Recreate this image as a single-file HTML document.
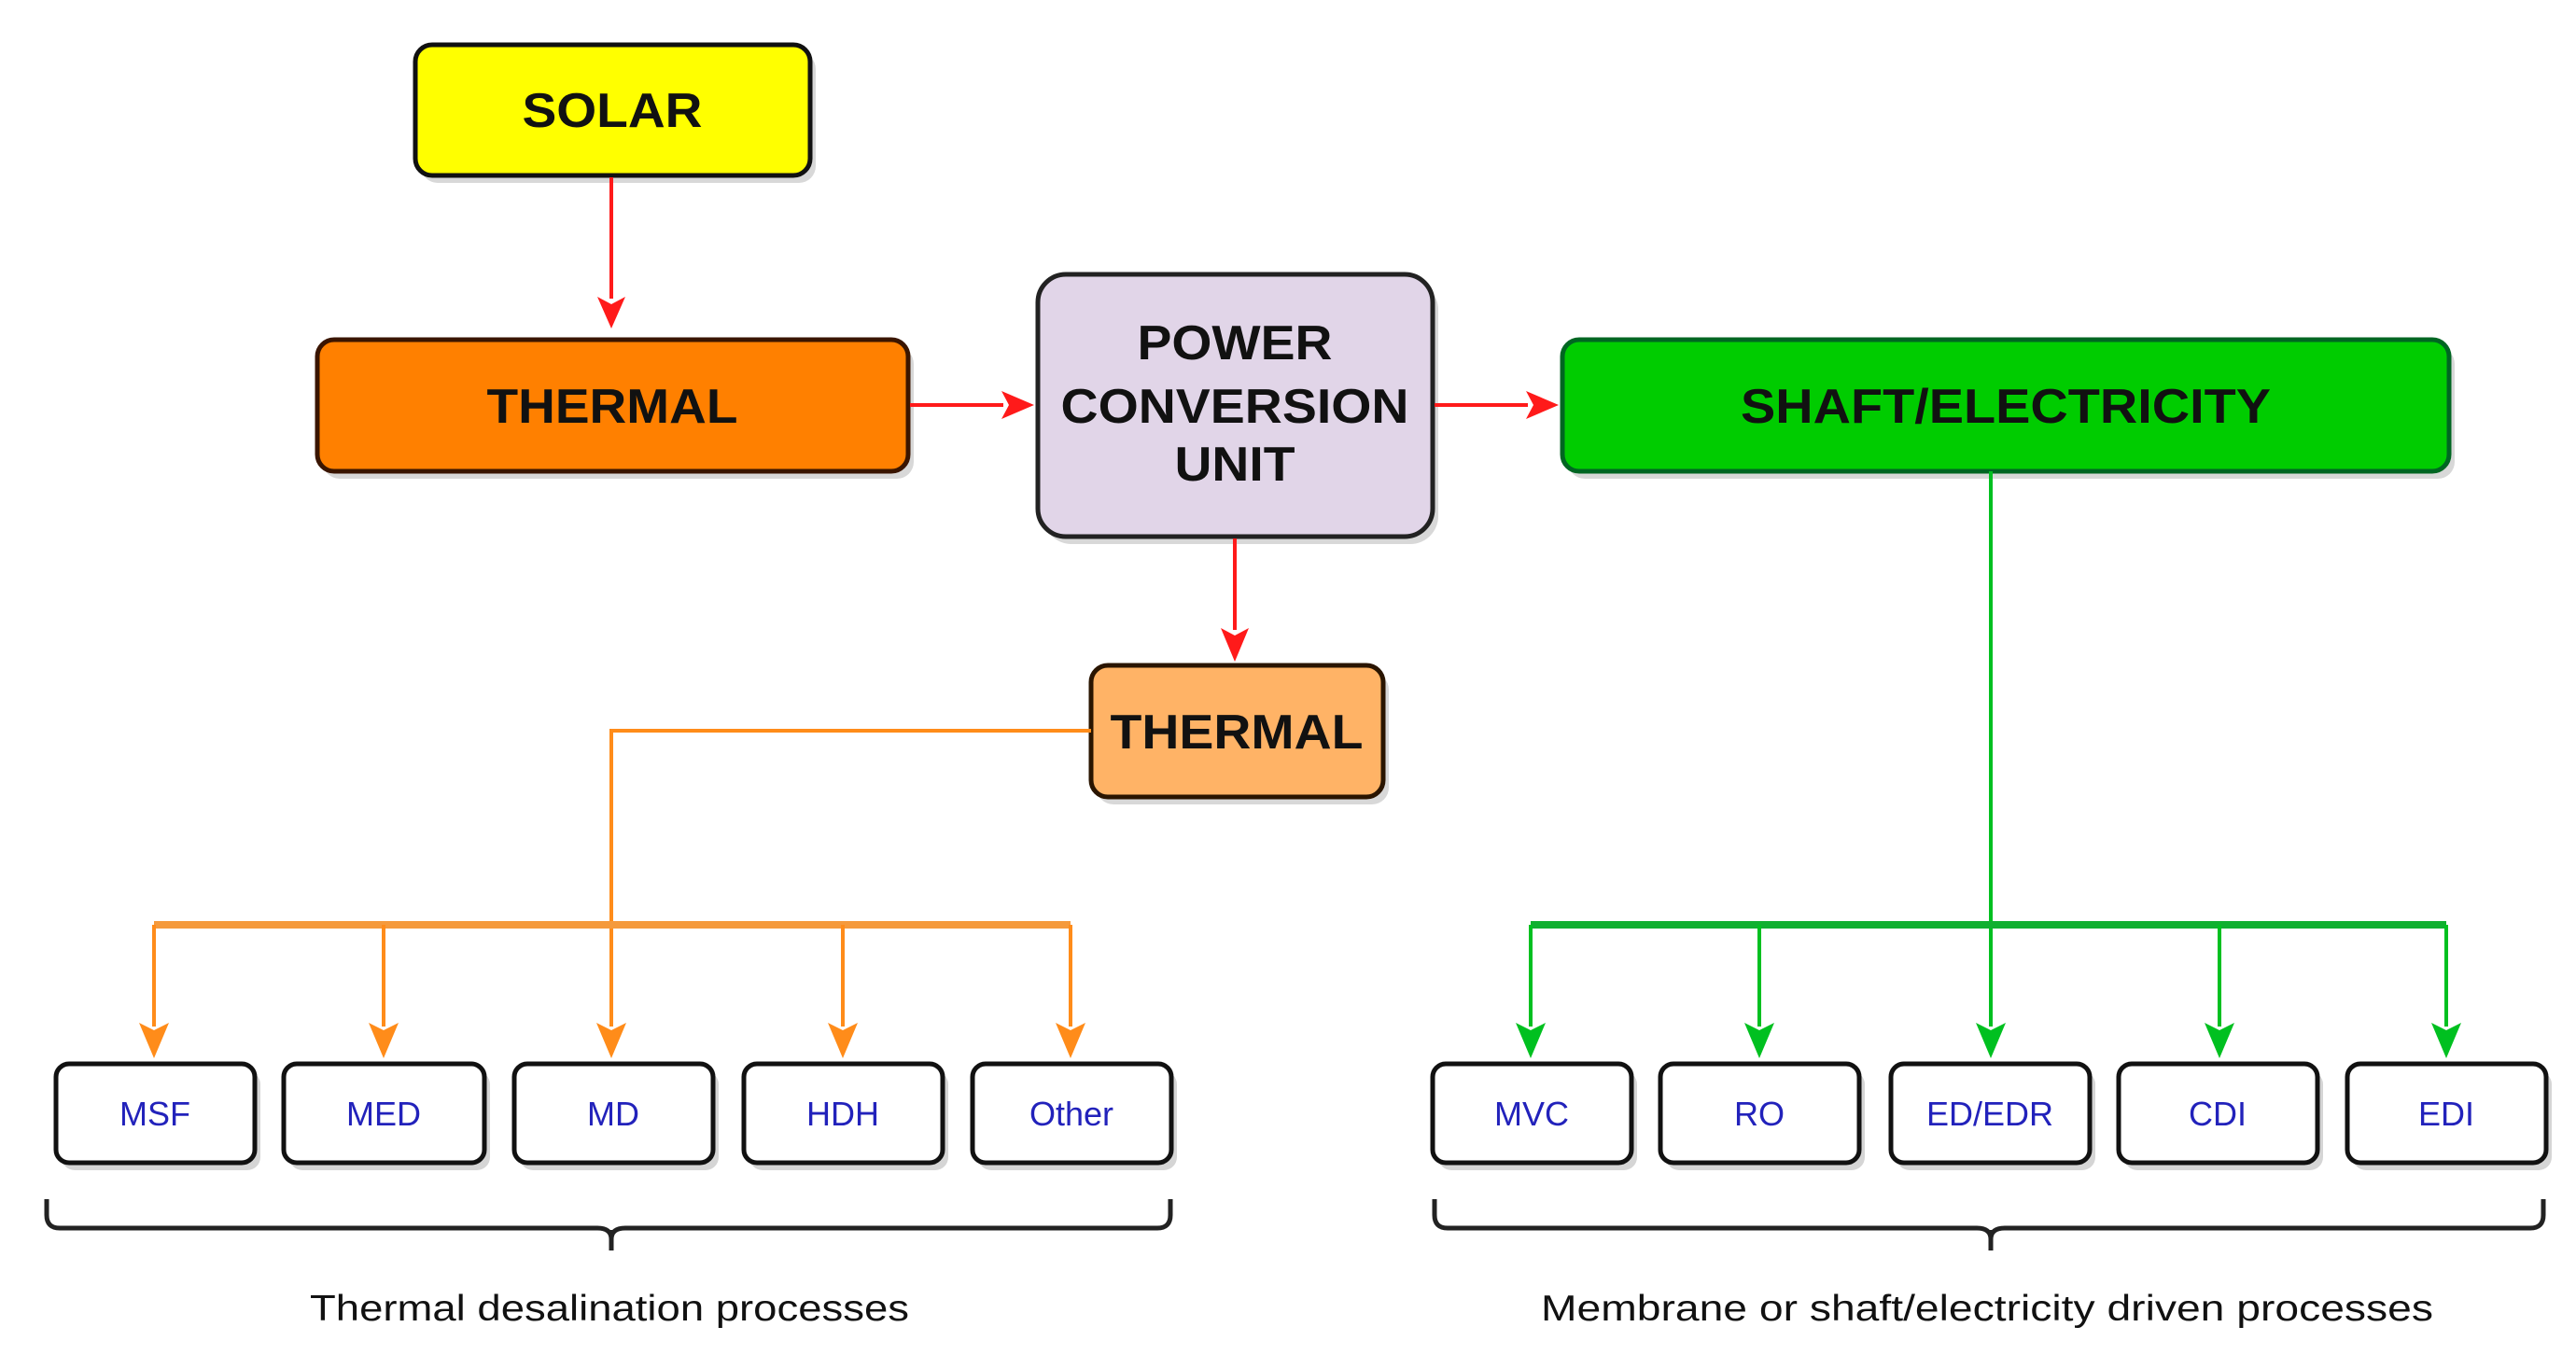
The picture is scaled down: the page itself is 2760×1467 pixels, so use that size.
<!DOCTYPE html>
<html><head><style>html,body{margin:0;padding:0;background:#fff}svg{display:block}</style></head>
<body>
<svg width="2760" height="1467" viewBox="0 0 2760 1467" xmlns="http://www.w3.org/2000/svg" font-family="'Liberation Sans', sans-serif">
<defs>
<marker id="ar" markerWidth="10" markerHeight="10" refX="9" refY="5" orient="auto" markerUnits="userSpaceOnUse" viewBox="0 0 10 10"><path d="M0,0 L10,5 L0,10 L3,5z" fill="#ff1a1a"/></marker>
</defs>
<g fill="#d8d8d8">
<rect x="451" y="56" width="423" height="140" rx="18"/>
<rect x="346" y="372" width="633" height="141" rx="18"/>
<rect x="1118" y="302" width="423" height="281" rx="30"/>
<rect x="1680" y="372" width="950" height="141" rx="18"/>
<rect x="1175" y="721" width="313" height="141" rx="18"/>
</g>
<rect x="445" y="48" width="423" height="140" rx="18" fill="#ffff00" stroke="#111" stroke-width="5"/>
<rect x="340" y="364" width="633" height="141" rx="18" fill="#ff8000" stroke="#3a1500" stroke-width="5"/>
<rect x="1112" y="294" width="423" height="281" rx="30" fill="#e1d5e8" stroke="#222" stroke-width="5"/>
<rect x="1674" y="364" width="950" height="141" rx="18" fill="#00cc00" stroke="#062" stroke-width="5"/>
<rect x="1169" y="713" width="313" height="141" rx="18" fill="#ffb366" stroke="#2a1500" stroke-width="5"/>
<g font-weight="bold" font-size="52" text-anchor="middle" fill="#111">
<text x="656" y="136" textLength="193" lengthAdjust="spacingAndGlyphs">SOLAR</text>
<text x="656" y="453" textLength="269" lengthAdjust="spacingAndGlyphs">THERMAL</text>
<text x="1323" y="385" textLength="209" lengthAdjust="spacingAndGlyphs">POWER</text>
<text x="1323" y="453" textLength="373" lengthAdjust="spacingAndGlyphs">CONVERSION</text>
<text x="1323" y="515" textLength="129" lengthAdjust="spacingAndGlyphs">UNIT</text>
<text x="2149" y="453" textLength="568" lengthAdjust="spacingAndGlyphs">SHAFT/ELECTRICITY</text>
<text x="1325" y="802" textLength="271" lengthAdjust="spacingAndGlyphs">THERMAL</text>
</g>
<!-- red arrows -->
<g stroke="#ff1a1a" stroke-width="4" fill="none">
<line x1="655" y1="190" x2="655" y2="320"/>
<line x1="975" y1="434" x2="1075" y2="434"/>
<line x1="1537" y1="434" x2="1637" y2="434"/>
<line x1="1323" y1="577" x2="1323" y2="675"/>
</g>
<g fill="#ff1a1a">
<path d="M640,318 L655,352 L670,318 L655,326z"/>
<path d="M1073,419 L1108,434 L1073,449 L1081,434z"/>
<path d="M1635,419 L1670,434 L1635,449 L1643,434z"/>
<path d="M1308,673 L1323,709 L1338,673 L1323,681z"/>
</g>
<!-- orange -->
<g stroke="#ff8c1a" stroke-width="4" fill="none">
<polyline points="1169,783 655,783 655,1100"/>
<line x1="165" y1="991" x2="1147" y2="991" stroke-width="8" stroke="#f59a3c"/>
<line x1="165" y1="991" x2="165" y2="1100"/><line x1="411" y1="991" x2="411" y2="1100"/>
<line x1="903" y1="991" x2="903" y2="1100"/><line x1="1147" y1="991" x2="1147" y2="1100"/>
</g>
<g fill="#ff8c1a">
<path d="M149,1096 L165,1134 L181,1096 L165,1104z"/>
<path d="M395,1096 L411,1134 L427,1096 L411,1104z"/>
<path d="M639,1096 L655,1134 L671,1096 L655,1104z"/>
<path d="M887,1096 L903,1134 L919,1096 L903,1104z"/>
<path d="M1131,1096 L1147,1134 L1163,1096 L1147,1104z"/>
</g>
<!-- green -->
<g stroke="#00c020" stroke-width="4" fill="none">
<line x1="2133" y1="505" x2="2133" y2="1100"/>
<line x1="1640" y1="991" x2="2621" y2="991" stroke-width="8" stroke="#10b030"/>
<line x1="1640" y1="991" x2="1640" y2="1100"/><line x1="1885" y1="991" x2="1885" y2="1100"/>
<line x1="2378" y1="991" x2="2378" y2="1100"/><line x1="2621" y1="991" x2="2621" y2="1100"/>
</g>
<g fill="#00c020">
<path d="M1624,1096 L1640,1134 L1656,1096 L1640,1104z"/>
<path d="M1869,1096 L1885,1134 L1901,1096 L1885,1104z"/>
<path d="M2117,1096 L2133,1134 L2149,1096 L2133,1104z"/>
<path d="M2362,1096 L2378,1134 L2394,1096 L2378,1104z"/>
<path d="M2605,1096 L2621,1134 L2637,1096 L2621,1104z"/>
</g>
<!-- small boxes -->
<g fill="#d5d5d5">
<rect x="66" y="1148" width="213" height="106" rx="14"/><rect x="310" y="1148" width="215" height="106" rx="14"/>
<rect x="557" y="1148" width="213" height="106" rx="14"/><rect x="803" y="1148" width="213" height="106" rx="14"/>
<rect x="1048" y="1148" width="213" height="106" rx="14"/>
<rect x="1541" y="1148" width="213" height="106" rx="14"/><rect x="1785" y="1148" width="213" height="106" rx="14"/>
<rect x="2032" y="1148" width="213" height="106" rx="14"/><rect x="2276" y="1148" width="213" height="106" rx="14"/>
<rect x="2521" y="1148" width="213" height="106" rx="14"/>
</g>
<g fill="#fff" stroke="#111" stroke-width="5">
<rect x="60" y="1140" width="213" height="106" rx="14"/><rect x="304" y="1140" width="215" height="106" rx="14"/>
<rect x="551" y="1140" width="213" height="106" rx="14"/><rect x="797" y="1140" width="213" height="106" rx="14"/>
<rect x="1042" y="1140" width="213" height="106" rx="14"/>
<rect x="1535" y="1140" width="213" height="106" rx="14"/><rect x="1779" y="1140" width="213" height="106" rx="14"/>
<rect x="2026" y="1140" width="213" height="106" rx="14"/><rect x="2270" y="1140" width="213" height="106" rx="14"/>
<rect x="2515" y="1140" width="213" height="106" rx="14"/>
</g>
<g font-size="36" fill="#2222bb" text-anchor="middle">
<text x="166" y="1206">MSF</text><text x="411" y="1206">MED</text><text x="657" y="1206">MD</text>
<text x="903" y="1206">HDH</text><text x="1148" y="1206">Other</text>
<text x="1641" y="1206">MVC</text><text x="1885" y="1206">RO</text><text x="2132" y="1206">ED/EDR</text>
<text x="2376" y="1206">CDI</text><text x="2621" y="1206">EDI</text>
</g>
<!-- braces -->
<g stroke="#222" stroke-width="5" fill="none">
<path d="M50,1285 L50,1302 Q50,1316 64,1316 L640,1316 Q655,1316 655,1328 Q655,1316 670,1316 L1240,1316 Q1254,1316 1254,1302 L1254,1285"/>
<line x1="655" y1="1318" x2="655" y2="1340"/>
<path d="M1537,1285 L1537,1302 Q1537,1316 1551,1316 L2118,1316 Q2133,1316 2133,1328 Q2133,1316 2148,1316 L2711,1316 Q2725,1316 2725,1302 L2725,1285"/>
<line x1="2133" y1="1318" x2="2133" y2="1340"/>
</g>
<g font-size="39" fill="#111" text-anchor="middle">
<text x="653" y="1415" textLength="642" lengthAdjust="spacingAndGlyphs">Thermal desalination processes</text>
<text x="2129" y="1415" textLength="956" lengthAdjust="spacingAndGlyphs">Membrane or shaft/electricity driven  processes</text>
</g>
</svg>
</body></html>
